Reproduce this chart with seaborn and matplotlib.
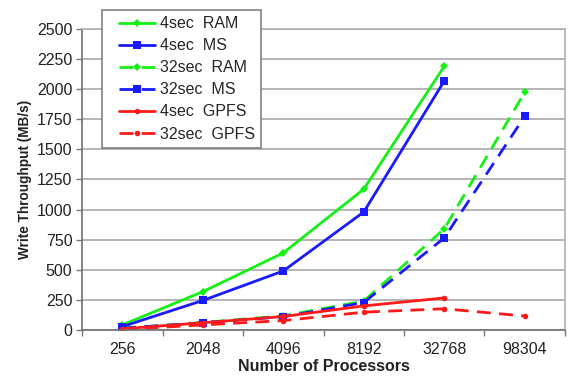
import numpy as np
import pandas as pd
import seaborn as sns
import matplotlib.pyplot as plt
from matplotlib.lines import Line2D
from matplotlib.legend_handler import HandlerLine2D
from matplotlib.ticker import FixedLocator, MultipleLocator

procs = ["256", "2048", "4096", "8192", "32768", "98304"]
nan = np.nan

ram_4 = [42, 318, 640, 1170, 2190, nan]
ms_4 = [28, 245, 490, 980, 2068, nan]
ram_32 = [12, 62, 118, 240, 840, 1975]
ms_32 = [16, 60, 110, 228, 765, 1775]
gpfs_4 = [10, 60, 112, 200, 266, nan]
gpfs_32 = [4, 42, 78, 148, 176, 116]

series = {
    "4sec  RAM": ram_4,
    "4sec  MS": ms_4,
    "32sec  RAM": ram_32,
    "32sec  MS": ms_32,
    "4sec  GPFS": gpfs_4,
    "32sec  GPFS": gpfs_32,
}
dash = (0, (5, 3))
styles = {
    "4sec  RAM": dict(color="#14f014", ls="-", marker="D", ms=4),
    "4sec  MS": dict(color="#1a1aff", ls="-", marker="s", ms=6),
    "32sec  RAM": dict(color="#14f014", ls=dash, marker="D", ms=4),
    "32sec  MS": dict(color="#1a1aff", ls=dash, marker="s", ms=6),
    "4sec  GPFS": dict(color="#ff1a1a", ls="-", marker="o", ms=4),
    "32sec  GPFS": dict(color="#ff1a1a", ls=dash, marker="o", ms=4),
}

rows = []
for name, vals in series.items():
    for i, v in enumerate(vals):
        rows.append({"pos": i, "Processors": procs[i], "Throughput": v, "Series": name})
df = pd.DataFrame(rows)

sns.set_theme(style="white")
plt.rcParams["font.family"] = ["Liberation Sans", "DejaVu Sans"]

fig = plt.figure(figsize=(5.68, 3.85), dpi=100)
ax = fig.add_axes([0.1444, 0.1429, 0.8503, 0.7818])

for name in series:
    st = styles[name]
    sub = df[(df["Series"] == name)].dropna()
    sns.lineplot(data=sub, x="pos", y="Throughput", ax=ax, label=name,
                 color=st["color"], linestyle=st["ls"], marker=st["marker"],
                 markersize=st["ms"], markeredgewidth=0, linewidth=2.0,
                 estimator=None, sort=False)

ax.set_xlim(-0.5, len(procs) - 0.5)
ax.set_ylim(0, 2500)
ax.yaxis.set_major_locator(MultipleLocator(250))
ax.set_xticks(range(len(procs)))
ax.set_xticklabels(procs)
ax.xaxis.set_minor_locator(FixedLocator(np.arange(-0.5, len(procs), 1)))
ax.tick_params(axis="x", which="major", length=0, pad=9, labelsize=11.5, colors="#222222")
ax.tick_params(axis="x", which="minor", length=4, width=1, color="#777777", direction="out", bottom=True)
ax.tick_params(axis="y", which="major", length=4, width=1, color="#777777", direction="out", left=True,
               labelsize=11.5, labelcolor="#222222", pad=3)

ax.grid(axis="y", color="#a8a8a8", linewidth=1.2)
ax.set_axisbelow(True)
for side in ["left", "bottom"]:
    ax.spines[side].set_color("#707070")
    ax.spines[side].set_linewidth(1.2)
for side in ["top", "right"]:
    ax.spines[side].set_color("#b0b0b0")
    ax.spines[side].set_linewidth(1.2)

ax.set_xlabel("Number of Processors", fontsize=11.5, fontweight="bold", labelpad=1, color="#222222")
ax.set_ylabel("Write Throughput (MB/s)", fontsize=9.8, fontweight="bold", labelpad=0, color="#222222")
ax.yaxis.set_label_coords(-50 / 483, 0.5)

leg = ax.legend(loc="upper left", bbox_to_anchor=(102 / 568, 1 - 10 / 385),
                bbox_transform=fig.transFigure, frameon=True, fancybox=False,
                fontsize=11.5, handlelength=2.9, handletextpad=0.3,
                labelspacing=0.44, borderpad=0.4, borderaxespad=0,
                handler_map={Line2D: HandlerLine2D(xpad=0.66)})
leg.get_frame().set_edgecolor("#808080")
leg.get_frame().set_linewidth(1.2)
leg.get_frame().set_facecolor("white")
leg.get_frame().set_alpha(1)

fig.savefig("out.png", dpi=100)
